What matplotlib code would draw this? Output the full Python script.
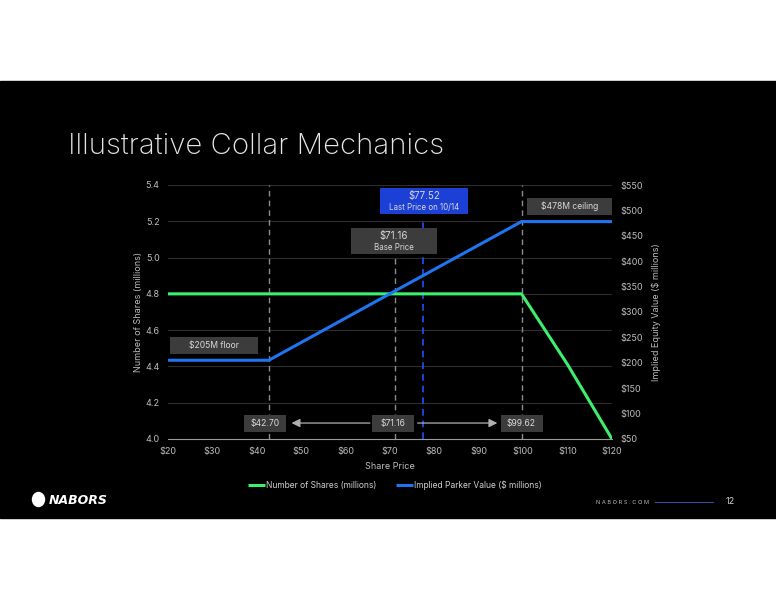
import matplotlib.pyplot as plt
from matplotlib.patches import Rectangle, Ellipse

plt.rcParams['font.family'] = ['Inter', 'DejaVu Sans']

# share price (x) and series
price_shares = [20, 40, 60, 80, 99.62, 110, 120]
shares = [4.8, 4.8, 4.8, 4.8, 4.8, 4.41, 4.0]

price_value = [20, 42.70, 71.16, 99.62, 120]
value = [205, 205, 341.6, 478, 478]

floor_px, base_px, cap_px, last_px = 42.70, 71.16, 99.62, 77.52
xticks = [20, 30, 40, 50, 60, 70, 80, 90, 100, 110, 120]
left_ticks = [4.0, 4.2, 4.4, 4.6, 4.8, 5.0, 5.2, 5.4]
right_ticks = [50, 100, 150, 200, 250, 300, 350, 400, 450, 500, 550]

GREEN = '#3cf06e'
BLUE = '#1f74f0'
BOX = '#3c3c3c'
TXT = '#d8d8d8'

fig = plt.figure(figsize=(7.76, 6.0), dpi=100, facecolor='white')
fig.patches.append(Rectangle((0, 1 - 518 / 600), 1, (518 - 81) / 600,
                             transform=fig.transFigure, color='black', zorder=-5))

fig.text(68 / 776, 1 - 146 / 600, 'Illustrative Collar Mechanics', color='#e6e6e6',
         fontsize=21.2, fontweight=200, va='center', ha='left')

AX_W, AX_H = 444, 254
ax = fig.add_axes([168 / 776, 1 - 439 / 600, AX_W / 776, AX_H / 600])
ax.set_facecolor('black')
ax2 = ax.twinx()
ax.set_zorder(1)
ax2.set_zorder(2)

ax.set_xlim(20, 120)
ax.set_ylim(4.0, 5.4)
ax2.set_ylim(50, 550)

for a in (ax, ax2):
    for s in a.spines.values():
        s.set_visible(False)
ax.spines['bottom'].set_visible(True)
ax.spines['bottom'].set_color('#9a9a9a')

ax.set_yticks(left_ticks)
ax.set_yticklabels([f'{v:.1f}' for v in left_ticks])
ax2.set_yticks(right_ticks)
ax2.set_yticklabels([f'${v}' for v in right_ticks])
ax.set_xticks(xticks)
ax.set_xticklabels([f'${v}' for v in xticks])
ax.tick_params(length=0, colors='#bdbdbd', labelsize=6.5, pad=6)
ax2.tick_params(length=0, colors='#bdbdbd', labelsize=6.5, pad=6)
ax.grid(axis='y', color='#2e2e2e', lw=0.8)
ax.set_axisbelow(True)

ax.set_xlabel('Share Price', color='#bdbdbd', fontsize=6.5, labelpad=4)
ax.set_ylabel('Number of Shares (millions)', color='#bdbdbd', fontsize=6.5, labelpad=2)
ax2.set_ylabel('Implied Equity Value ($ millions)', color='#bdbdbd', fontsize=6.5, labelpad=6)

# vertical reference lines
dash = (0, (4, 3))
ax.plot([floor_px, floor_px], [4.0, 5.4], color='#8c8c8c', lw=1, ls=dash, zorder=2)
ax.plot([cap_px, cap_px], [4.0, 5.4], color='#8c8c8c', lw=1, ls=dash, zorder=2)
ax.plot([base_px, base_px], [4.0, 5.0], color='#8c8c8c', lw=1, ls=dash, zorder=2)
ax.plot([last_px, last_px], [4.0, 5.2], color='#2050ff', lw=1.2, ls=dash, zorder=2)

ln1, = ax.plot(price_shares, shares, color=GREEN, lw=2.2, zorder=4,
               label='Number of Shares (millions)', solid_capstyle='butt')
ln2, = ax2.plot(price_value, value, color=BLUE, lw=2.2, zorder=4,
                label='Implied Parker Value ($ millions)', solid_capstyle='butt')


def to2(y):
    return 50 + (y - 4.0) / 1.4 * 500


def box(x, y, w, h, s, sub=None, fc=BOX, fs=6.2):
    # x in price, y on the shares scale, w/h in pixels
    y2 = to2(y)
    dw = w / AX_W * 100
    dh = h / AX_H * 500
    ax2.add_patch(Rectangle((x - dw / 2, y2 - dh / 2), dw, dh, fc=fc, ec='none', zorder=6))
    if sub is None:
        ax2.text(x, y2, s, ha='center', va='center', color=TXT, fontsize=fs, zorder=7)
    else:
        off = 6.5 / AX_H * 500
        ax2.text(x, y2 + off * 0.8, s, ha='center', va='center', color=TXT,
                 fontsize=7, zorder=7)
        ax2.text(x, y2 - off * 0.95, sub, ha='center', va='center', color=TXT,
                 fontsize=5.7, zorder=7)


box(30.4, 4.515, 88, 17, '$205M floor')
box(110.4, 5.281, 85, 17, '$478M ceiling')
box(70.9, 5.091, 86, 26, '$71.16', 'Base Price')
box(77.66, 5.312, 88, 26, '$77.52', 'Last Price on 10/14', fc='#1c3fd6')

# price markers on the x axis with arrows
for xc, lab in ((41.9, floor_px), (base_px - 0.4, base_px), (cap_px, cap_px)):
    box(xc, 4.088, 42, 17, f'${lab:.2f}')
arr = dict(arrowstyle='-|>,head_length=0.5,head_width=0.25', color='#b0b0b0', lw=0.9)
ax.annotate('', xy=(47.2, 4.088), xytext=(66.1, 4.088), arrowprops=arr, zorder=5)
ax.annotate('', xy=(94.8, 4.088), xytext=(75.6, 4.088), arrowprops=arr, zorder=5)

leg = fig.legend(handles=[ln1, ln2], loc='center',
                 bbox_to_anchor=(0.5 + 7 / 776, 1 - 485 / 600),
                 ncol=2, frameon=False, fontsize=6.1, handlelength=2.0,
                 handletextpad=0.1, columnspacing=2.4)
for t in leg.get_texts():
    t.set_color('#cfcfcf')

# footer
fig.patches.append(Ellipse((38.5 / 776, 1 - 499.5 / 600), 12 / 776, 14 / 600, color='white',
                           transform=fig.transFigure))
fig.text(49 / 776, 1 - 500 / 600, 'NABORS', color='white', fontsize=9,
         fontweight='bold', fontstyle='italic', va='center', family='DejaVu Sans')
fig.text(623 / 776, 1 - 502 / 600, 'N A B O R S . C O M', color='#bdbdbd', fontsize=4.0,
         va='center', ha='center')
fig.add_artist(plt.Line2D([655 / 776, 713 / 776], [1 - 502 / 600] * 2, color='#3a4aa0',
                          lw=0.8, transform=fig.transFigure))
fig.text(730 / 776, 1 - 502 / 600, '12', color='#d0d0d0', fontsize=6.5, va='center', ha='center')

fig.savefig('out.png', dpi=100, facecolor='white')
